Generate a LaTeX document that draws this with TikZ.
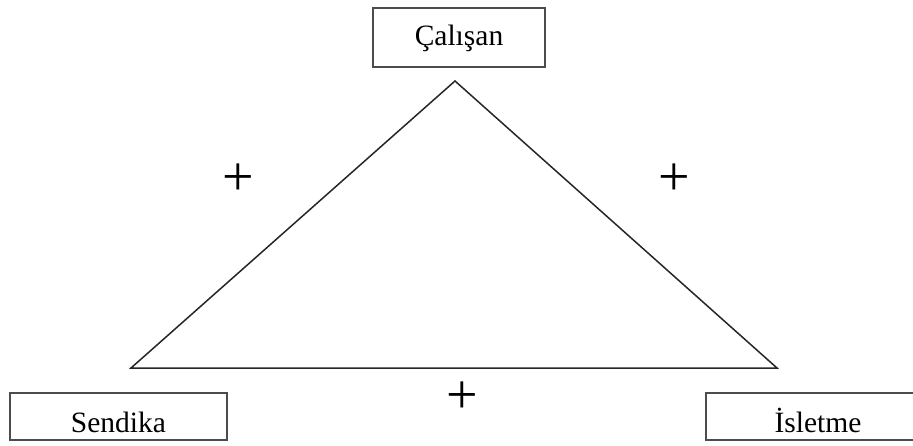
\documentclass[tikz,border=0pt]{standalone}
\usepackage{fontspec}
\setmainfont{Liberation Serif}
\begin{document}
\begin{tikzpicture}[x=1pt,y=-1pt,
  labelbox/.style={draw=black!70, line width=1.5pt, inner sep=0pt, font=\fontsize{29.5}{31}\selectfont, text height=31pt, text depth=0pt},
  edge/.style={draw=black!85, line width=1.5pt, line join=miter},
  plussign/.style={inner sep=0pt, anchor=base, font=\fontsize{56}{56}\selectfont}]
\useasboundingbox (0,0) rectangle (913,445);
\node[labelbox, minimum width=172pt, minimum height=59pt, text height=15pt] (calisan) at (459,37.5) {Çalışan};
\node[labelbox, minimum width=217pt, minimum height=47pt] (sendika) at (118.5,416.5) {Sendika};
\node[labelbox, minimum width=224pt, minimum height=47pt] (isletme) at (818,416.5) {İsletme};
\coordinate (apex) at (455,81);
\coordinate (bl) at (131,368);
\coordinate (br) at (777,368);
\draw[edge] (apex) -- (br) -- (bl) -- cycle;
\node[plussign] (p1) at (238,195) {+};
\node[plussign] (p2) at (674,195) {+};
\node[plussign] (p3) at (462.5,413) {+};
\end{tikzpicture}
\end{document}
